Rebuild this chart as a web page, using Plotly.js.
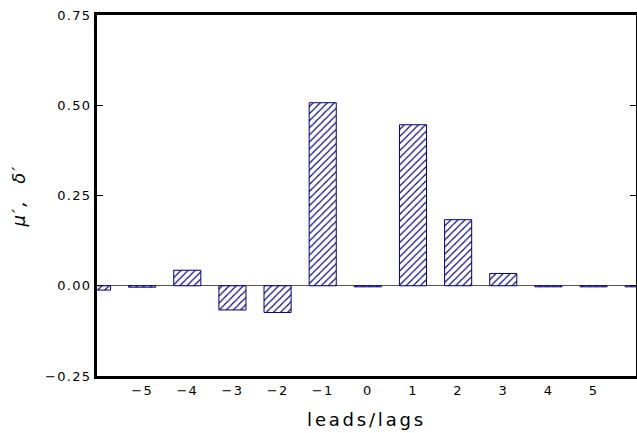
<!DOCTYPE html>
<html>
<head>
<meta charset="utf-8">
<script src="https://cdn.plot.ly/plotly-3.0.1.min.js"></script>
<style>
html,body{margin:0;padding:0;background:#fff;}
.xtick text, .ytick text { letter-spacing: 1.3px; }
.xtitle { letter-spacing: 2.8px; }
.ytitle { letter-spacing: 2px; }
</style>
</head>
<body>
<div id="chart" style="width:637px;height:433px;"></div>
<script>
const lags = [-6, -5, -4, -3, -2, -1, 0, 1, 2, 3, 4, 5, 6];
const values = [-0.012, -0.004, 0.043, -0.067, -0.074, 0.507, -0.003, 0.446, 0.183, 0.034, -0.003, -0.003, -0.003];
const xTickVals = [-5, -4, -3, -2, -1, 0, 1, 2, 3, 4, 5];
const yTickVals = [-0.25, 0, 0.25, 0.5, 0.75];

const font = "DejaVu Sans, sans-serif";
const trace = {
  type: 'bar',
  x: lags,
  y: values,
  width: 0.6,
  marker: {
    color: '#ffffff',
    line: {color: '#000080', width: 1},
    pattern: {shape: '/', fgcolor: '#000080', bgcolor: '#ffffff', size: 5, solidity: 0.22}
  },
  hoverinfo: 'skip'
};

const layout = {
  width: 637, height: 433,
  margin: {l: 97, r: 1, t: 15, b: 57},
  paper_bgcolor: '#fff', plot_bgcolor: '#fff',
  showlegend: false,
  font: {family: font, size: 13, color: '#000'},
  xaxis: {
    range: [-6, 5.94],
    tickvals: xTickVals,
    ticktext: xTickVals.map(v => v < 0 ? '\u2212' + Math.abs(v) : String(v)),
    ticks: '',
    showgrid: false, zeroline: false,
    showline: true, linecolor: '#000', linewidth: 3, mirror: true,
    tickfont: {family: font, size: 13},
    title: {text: 'leads/lags', font: {family: font, size: 18}, standoff: 17}
  },
  yaxis: {
    range: [-0.25, 0.75],
    tickvals: yTickVals,
    tickformat: '.2f',
    ticks: 'inside', ticklen: 6, tickwidth: 1, tickcolor: '#000',
    showgrid: false,
    zeroline: true, zerolinecolor: '#555', zerolinewidth: 1,
    showline: true, linecolor: '#000', linewidth: 3, mirror: 'ticks',
    tickfont: {family: font, size: 13},
    title: {text: '<i>μ′,  δ′</i>', font: {family: font, size: 18}, standoff: 15}
  }
};

Plotly.newPlot('chart', [trace], layout, {displayModeBar: false, staticPlot: true});
</script>
</body>
</html>
